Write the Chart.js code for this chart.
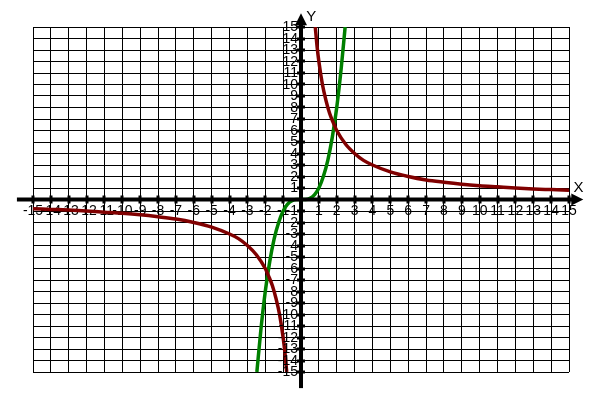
<!DOCTYPE html>
<html>
<head>
<meta charset="utf-8">
<script src="https://cdn.jsdelivr.net/npm/chart.js@4/dist/chart.umd.min.js"></script>
<style>
  html, body { margin: 0; padding: 0; background: #fff; }
  #wrap { width: 600px; height: 400px; }
</style>
</head>
<body>
<div id="wrap"><canvas id="c" width="600" height="400"></canvas></div>
<script>
// Values
const redPosX = [0.8, 0.9, 1, 1.2, 1.4, 1.6, 1.8, 2, 2.5, 3, 3.5, 4, 5, 6, 7, 8, 9, 10, 11, 12, 13, 14, 15];
const redPosY = [15, 13.3, 12, 10, 8.6, 7.5, 6.7, 6, 4.8, 4, 3.4, 3, 2.4, 2, 1.7, 1.5, 1.33, 1.2, 1.1, 1, 0.92, 0.86, 0.8];
const redNegX = [-15, -14, -13, -12, -11, -10, -9, -8, -7, -6, -5, -4, -3.5, -3, -2.5, -2, -1.8, -1.6, -1.4, -1.2, -1, -0.9, -0.8];
const redNegY = [-0.8, -0.86, -0.92, -1, -1.1, -1.2, -1.33, -1.5, -1.7, -2, -2.4, -3, -3.4, -4, -4.8, -6, -6.7, -7.5, -8.6, -10, -12, -13.3, -15];
const greenX = [-2.47, -2.25, -2, -1.75, -1.5, -1.25, -1, -0.75, -0.5, -0.25, 0, 0.25, 0.5, 0.75, 1, 1.25, 1.5, 1.75, 2, 2.25, 2.47];
const greenY = [-15, -11.4, -8, -5.4, -3.4, -2, -1, -0.4, -0.1, 0, 0, 0, 0.1, 0.4, 1, 2, 3.4, 5.4, 8, 11.4, 15];
const xTickLabels = ['-15','-14','-13','-12','-11','-10','-9','-8','-7','-6','-5','-4','-3','-2','-1','0','1','2','3','4','5','6','7','8','9','10','11','12','13','14','15'];
const yTickLabels = xTickLabels;
const axisNames = ['X', 'Y'];

const pts = (xs, ys) => xs.map((x, i) => ({ x: x, y: ys[i] }));
const RED = '#800000';
const GREEN = '#008000';
const FONT = "'Liberation Sans Narrow', 'Liberation Sans', Arial, sans-serif";

const axesPlugin = {
  id: 'axesPlugin',
  afterDraw(chart) {
    const ctx = chart.ctx;
    const xs = chart.scales.x, ys = chart.scales.y;
    const x0 = xs.getPixelForValue(0), y0 = ys.getPixelForValue(0);
    ctx.save();
    ctx.fillStyle = '#000';
    // x axis line
    const xl = xs.getPixelForValue(-15.9), xr = xs.getPixelForValue(15.2);
    ctx.fillRect(xl, y0 - 2, xr - xl, 4);
    // arrow right
    const tip = xs.getPixelForValue(15.8);
    ctx.beginPath();
    ctx.moveTo(tip, y0);
    ctx.lineTo(tip - 12, y0 - 6);
    ctx.lineTo(tip - 12, y0 + 6);
    ctx.closePath();
    ctx.fill();
    // y axis line
    const yb = ys.getPixelForValue(-16.4), yt = ys.getPixelForValue(15.4);
    ctx.fillRect(x0 - 2, yt, 4, yb - yt);
    const ytip = ys.getPixelForValue(16.2);
    ctx.beginPath();
    ctx.moveTo(x0, ytip);
    ctx.lineTo(x0 - 6, ytip + 12);
    ctx.lineTo(x0 + 6, ytip + 12);
    ctx.closePath();
    ctx.fill();
    // tick marks
    for (let v = -15; v <= 15; v++) {
      if (v === 0) continue;
      const px = Math.round(xs.getPixelForValue(v));
      ctx.fillRect(px - 1.5, y0 - 4, 3, 8);
      const py = Math.round(ys.getPixelForValue(v));
      ctx.fillRect(x0 - 4, py - 1.5, 8, 3);
    }
    // y tick labels, right-aligned just left of the axis
    ctx.font = '14px ' + FONT;
    ctx.textAlign = 'right';
    ctx.textBaseline = 'middle';
    ys.ticks.forEach((t) => {
      if (t.value === 0) return;
      ctx.fillText(yTickLabels[t.value + 15], x0 - 3, ys.getPixelForValue(t.value) + 0.5);
    });
    // axis names
    ctx.font = '15px ' + FONT;
    ctx.textAlign = 'left';
    ctx.textBaseline = 'middle';
    ctx.fillText(axisNames[0], xs.getPixelForValue(15.25), ys.getPixelForValue(1.0));
    ctx.fillText(axisNames[1], xs.getPixelForValue(0.3), ys.getPixelForValue(15.9));
    ctx.restore();
  }
};

new Chart(document.getElementById('c'), {
  type: 'line',
  data: {
    datasets: [
      { data: pts(redPosX, redPosY), borderColor: RED, borderWidth: 3.5, pointRadius: 0, cubicInterpolationMode: 'monotone', fill: false },
      { data: pts(redNegX, redNegY), borderColor: RED, borderWidth: 3.5, pointRadius: 0, cubicInterpolationMode: 'monotone', fill: false },
      { data: pts(greenX, greenY), borderColor: GREEN, borderWidth: 3.5, pointRadius: 0, cubicInterpolationMode: 'monotone', fill: false }
    ]
  },
  options: {
    responsive: false,
    animation: false,
    events: [],
    layout: { padding: { left: 33, right: 31, top: 27, bottom: 28 } },
    plugins: { legend: { display: false }, tooltip: { enabled: false } },
    scales: {
      x: {
        type: 'linear',
        min: -15, max: 15,
        position: { y: 0 },
        afterFit(s) { s.height = 0; },
        border: { display: false },
        grid: { color: '#000', lineWidth: 1, drawTicks: false },
        ticks: {
          stepSize: 1, autoSkip: false, maxRotation: 0, padding: 3,
          color: '#000', font: { family: FONT, size: 14 },
          callback: (v) => v === 0 ? '' : xTickLabels[v + 15]
        }
      },
      y: {
        type: 'linear',
        min: -15, max: 15,
        position: { x: 0 },
        afterFit(s) { s.width = 0; },
        border: { display: false },
        grid: { color: '#000', lineWidth: 1, drawTicks: false },
        ticks: { stepSize: 1, autoSkip: false, display: false }
      }
    }
  },
  plugins: [axesPlugin]
});
</script>
</body>
</html>
